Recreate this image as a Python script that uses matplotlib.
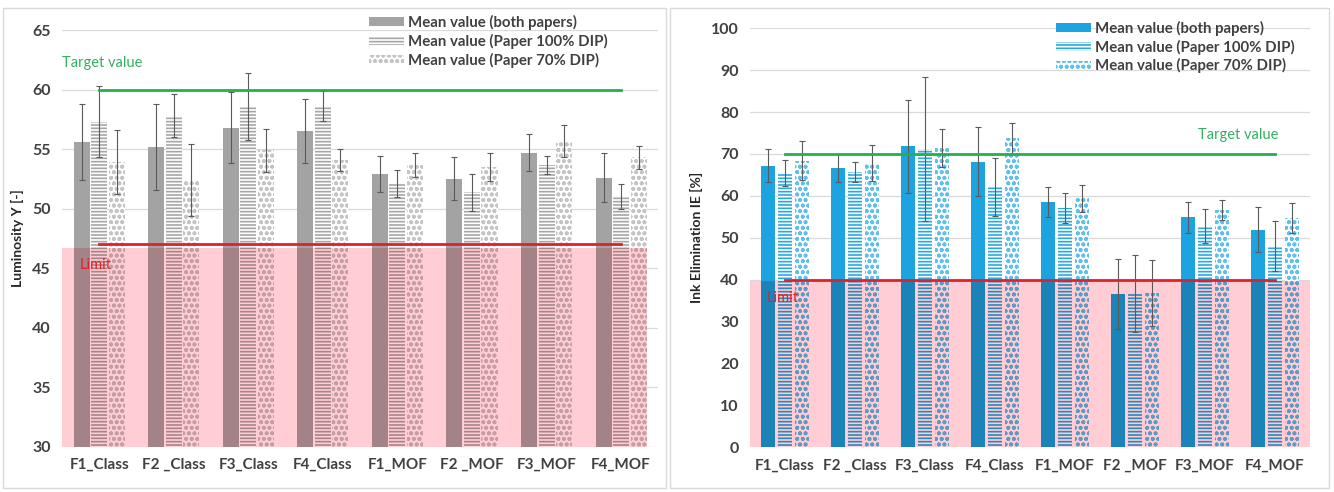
import numpy as np
import matplotlib as mpl
import matplotlib.pyplot as plt
from matplotlib.patches import Rectangle
from matplotlib.colors import to_rgb

mpl.rcParams['font.family'] = ['Lato', 'DejaVu Sans']
mpl.rcParams['hatch.linewidth'] = 1.2

categories = ['F1_Class', 'F2 _Class', 'F3_Class', 'F4_Class',
              'F1_MOF', 'F2 _MOF', 'F3_MOF', 'F4_MOF']
series_names = ['Mean value (both papers)', 'Mean value (Paper 100% DIP)',
                'Mean value (Paper 70% DIP)']

# luminosity Y [-]
lum_both = [55.6, 55.2, 56.8, 56.5, 52.9, 52.5, 54.7, 52.6]
lum_both_err = [3.2, 3.6, 3.0, 2.7, 1.5, 1.8, 1.55, 2.05]
lum_100 = [57.3, 57.8, 58.6, 58.6, 52.1, 51.4, 53.7, 51.0]
lum_100_err = [3.0, 1.8, 2.8, 1.25, 1.15, 1.55, 0.75, 1.05]
lum_70 = [53.9, 52.4, 54.9, 54.1, 53.7, 53.5, 55.7, 54.3]
lum_70_err = [2.7, 3.0, 1.8, 0.9, 1.0, 1.2, 1.35, 1.0]
lum_target = 60
lum_limit = 47

# ink elimination IE [%]
ie_both = [67.2, 66.6, 71.8, 68.2, 58.6, 36.6, 54.9, 51.9]
ie_both_err = [4.0, 3.4, 11.2, 8.3, 3.6, 8.3, 3.7, 5.4]
ie_100 = [65.5, 65.6, 71.2, 62.1, 57.2, 36.8, 52.8, 48.0]
ie_100_err = [3.1, 2.4, 17.1, 7.0, 3.6, 9.2, 4.0, 5.9]
ie_70 = [68.4, 67.8, 71.4, 73.7, 59.4, 36.8, 56.6, 54.8]
ie_70_err = [4.6, 4.3, 4.5, 3.6, 3.2, 7.9, 2.3, 3.6]
ie_target = 70
ie_limit = 40

PINK = '#ffcdd3'


def tint(c):
    # colour seen through the pink band (multiply blend)
    return tuple(a * b for a, b in zip(to_rgb(c), to_rgb(PINK)))


fig = plt.figure(figsize=(13.34, 4.92), dpi=100)

# panel frames
for x0, w in [(0.002, 0.497), (0.502, 0.494)]:
    fig.patches.append(Rectangle((x0, 0.008), w, 0.975, transform=fig.transFigure,
                                 fill=False, edgecolor='#d9d9d9', linewidth=1.0))

ax1 = fig.add_axes([0.0465, 0.0915, 0.447, 0.8475])
ax2 = fig.add_axes([0.5622, 0.0909, 0.4198, 0.8516])

x = np.arange(len(categories))


def draw_panel(ax, vals, errs, colors, ylim, step, target, limit, pink_x,
               spacing, width):
    ax.set_xlim(-0.5, 7.5)
    ax.set_ylim(*ylim)
    ax.set_yticks(np.arange(ylim[0], ylim[1] + 0.1, step))
    ax.yaxis.grid(True, color='#d9d9d9', linewidth=0.9, zorder=0)
    ax.set_axisbelow(True)
    for s in ax.spines.values():
        s.set_visible(False)
    ax.tick_params(length=0, labelsize=11.5, labelcolor='#404040', pad=8)

    band_top = limit - 0.3
    ax.add_patch(Rectangle((pink_x[0], ylim[0]), pink_x[1] - pink_x[0], band_top - ylim[0],
                           facecolor=PINK, linewidth=0, zorder=1))

    styles = [(colors[0], None, None), ('white', colors[1], '-----'),
              ('white', colors[2], 'ooo')]
    handles = []
    for i, (v, e, (fc, hc, hatch)) in enumerate(zip(vals, errs, styles)):
        pos = x + (i - 1) * spacing
        v = np.array(v)
        low = np.minimum(v, band_top)
        up = np.clip(v - band_top, 0, None)
        kw_up = dict(facecolor=fc, linewidth=0, zorder=2)
        kw_low = dict(facecolor=tint(fc), linewidth=0, zorder=2)
        if hatch:
            kw_up.update(edgecolor=hc, hatch=hatch)
            kw_low.update(edgecolor=tint(hc), hatch=hatch)
        ax.bar(pos, low - ylim[0], width, bottom=ylim[0], **kw_low)
        b = ax.bar(pos, up, width, bottom=band_top, **kw_up)
        ax.errorbar(pos, v, yerr=e, fmt='none', ecolor='#5a5a5a', elinewidth=0.8,
                    capsize=2.5, capthick=0.8, zorder=3)
        handles.append(b)

    ax.plot([x[0], x[-1]], [target, target], color='#22b14c', linewidth=2, zorder=5)
    ax.plot([x[0], x[-1]], [limit, limit], color='#e0202a', linewidth=2, zorder=5)
    ax.set_xticks(x)
    ax.set_xticklabels(categories)
    for lbl in ax.get_xticklabels() + ax.get_yticklabels():
        lbl.set_fontweight('bold')
    ax.tick_params(axis='x', labelsize=11)
    return handles


h1 = draw_panel(ax1, [lum_both, lum_100, lum_70], [lum_both_err, lum_100_err, lum_70_err],
                ['#a3a3a3', '#a6a6a6', '#c4c4c4'], (30, 65), 5, lum_target, lum_limit,
                (-0.5, 7.34), 0.235, 0.215)
h2 = draw_panel(ax2, [ie_both, ie_100, ie_70], [ie_both_err, ie_100_err, ie_70_err],
                ['#1ca3e0', '#2aa8e2', '#5fc0ec'], (0, 100), 10, ie_target, ie_limit,
                (-0.5, 7.62), 0.243, 0.21)

ax1.text(-0.5, 62.2, 'Target value', color='#33b060', fontsize=10.5, va='center')
ax1.text(-0.26, 45.3, 'Limit', color='#e0202a', fontsize=10.5, va='center')
ax2.text(7.05, 74.5, 'Target value', color='#33b060', fontsize=10.5, va='center', ha='right')
ax2.text(-0.26, 35.6, 'Limit', color='#e0202a', fontsize=10.5, va='center')

ax1.set_ylabel('Luminosity Y [-]', fontsize=10, fontweight='bold', color='#262626', labelpad=6)
ax2.set_ylabel('Ink Elimination IE [%]', fontsize=10, fontweight='bold', color='#262626', labelpad=6)

for h, anchor in [(h1, (0.46, 0.982)), (h2, (0.975, 0.97))]:
    leg = fig.legend(h, series_names, loc='upper right', bbox_to_anchor=anchor,
                     frameon=False, fontsize=10.8, handlelength=2.3, handleheight=0.5,
                     handletextpad=0.3, labelspacing=0.25, borderaxespad=0)
    for t in leg.get_texts():
        t.set_fontweight('bold')
        t.set_color('#404040')

fig.savefig('out.png', dpi=100)
